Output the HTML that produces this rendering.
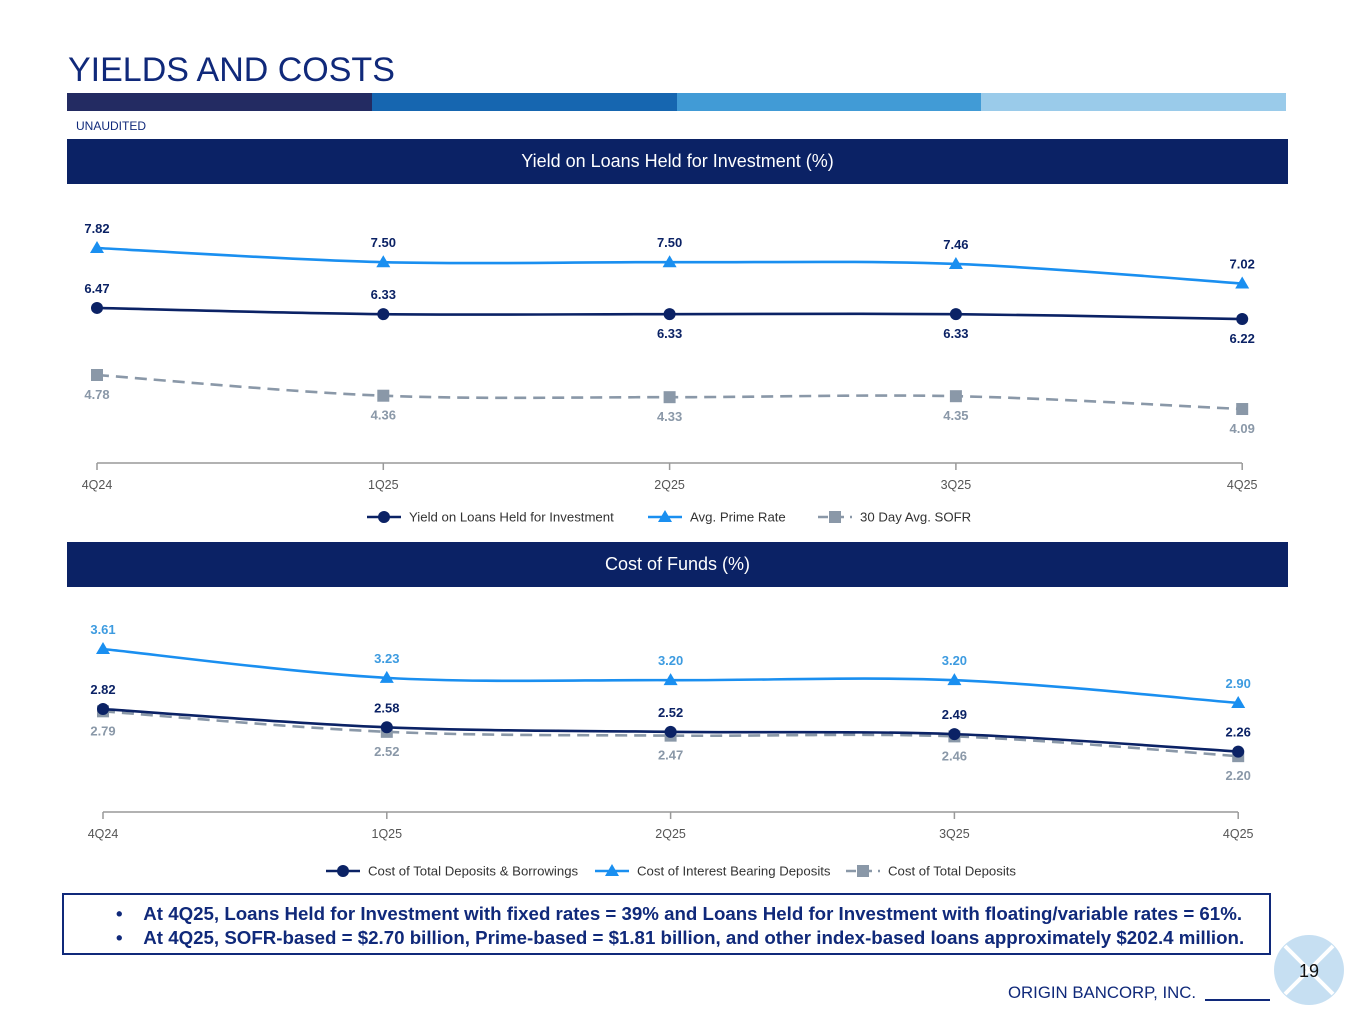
<!DOCTYPE html>
<html><head><meta charset="utf-8"><style>
body{margin:0;width:1365px;height:1024px;background:#fff;font-family:"Liberation Sans",Arial,sans-serif;position:relative;overflow:hidden}
.a{position:absolute}
.ban{position:absolute;left:67px;width:1221px;height:45px;background:#0b2265;color:#fff;font-size:18px;text-align:center;line-height:45px}
</style></head><body>
<div class="a" style="left:68px;top:51px;font-size:34px;color:#10297a">YIELDS AND COSTS</div>
<div class="a" style="left:67px;top:93px;width:1219px;height:18px;display:flex">
<div style="flex:1;background:#232b62"></div><div style="flex:1;background:#1666b0"></div><div style="flex:1;background:#419bd6"></div><div style="flex:1;background:#9acbea"></div></div>
<div class="a" style="left:76px;top:119px;font-size:12px;color:#10297a">UNAUDITED</div>
<div class="ban" style="top:139px">Yield on Loans Held for Investment (%)</div>
<div class="ban" style="top:542px">Cost of Funds (%)</div>
<svg class="a" id="sv" style="left:0;top:0" width="1365" height="1024"></svg>
<div class="a" style="left:62px;top:893px;width:1209px;height:62px;border:2px solid #10297a;font-size:18.7px;font-weight:bold;color:#10297a;line-height:24px;padding-top:7px;box-sizing:border-box;white-space:nowrap">
<div style="padding-left:52px">•&nbsp;&nbsp;&nbsp;&nbsp;At 4Q25, Loans Held for Investment with fixed rates = 39% and Loans Held for Investment with floating/variable rates = 61%.</div>
<div style="padding-left:52px">•&nbsp;&nbsp;&nbsp;&nbsp;At 4Q25, SOFR-based = $2.70 billion, Prime-based = $1.81 billion, and other index-based loans approximately $202.4 million.</div></div>
<div class="a" style="left:1008px;top:983px;font-size:16.8px;color:#10297a">ORIGIN BANCORP, INC.</div>
<div class="a" style="left:1205px;top:999px;width:65px;height:1.5px;background:#10297a"></div>
<svg class="a" style="left:1273px;top:934px" width="72" height="72"><circle cx="36" cy="36" r="35" fill="#c6dff2"/><path d="M12 12L60 60M60 12L12 60" stroke="#fff" stroke-width="4"/><text x="36" y="43" font-size="18" text-anchor="middle" fill="#111" font-family="Liberation Sans">19</text></svg>
<script>
const cats=["4Q24","1Q25","2Q25","3Q25","4Q25"];
const yieldLoans=[6.47,6.33,6.33,6.33,6.22];
const primeRate=[7.82,7.50,7.50,7.46,7.02];
const sofr=[4.78,4.36,4.33,4.35,4.09];
const costTotal=[2.82,2.58,2.52,2.49,2.26];
const costIB=[3.61,3.23,3.20,3.20,2.90];
const costDep=[2.79,2.52,2.47,2.46,2.20];
const NS="http://www.w3.org/2000/svg",sv=document.getElementById('sv');
function el(t,a,p){const e=document.createElementNS(NS,t);for(const k in a)e.setAttribute(k,a[k]);(p||sv).appendChild(e);return e;}
function path(pts){let d="M"+pts[0][0]+","+pts[0][1];for(let i=0;i<pts.length-1;i++){const p0=pts[i-1]||pts[i],p1=pts[i],p2=pts[i+1],p3=pts[i+2]||p2,t=6;d+=`C${p1[0]+(p2[0]-p0[0])/t},${p1[1]+(p2[1]-p0[1])/t} ${p2[0]-(p3[0]-p1[0])/t},${p2[1]-(p3[1]-p1[1])/t} ${p2[0]},${p2[1]}`;}return d;}
function marker(s,x,y,c){if(s=='c')return el('circle',{cx:x,cy:y,r:6,fill:c});if(s=='t')return el('path',{d:`M${x} ${y-7}L${x+7} ${y+5}L${x-7} ${y+5}Z`,fill:c});return el('rect',{x:x-6,y:y-6,width:12,height:12,fill:c});}
function series(name,vals,xf,yf,c,sh,dash,lab,lc,bold){
 const g=el('g',{});
 const pts=vals.map((v,i)=>[xf(i),yf(v)]);
 el('path',{d:path(pts),fill:'none',stroke:c,'stroke-width':2.6,'stroke-dasharray':dash||''},g);
 pts.forEach((q,i)=>{const m=marker(sh,q[0],q[1],c);g.appendChild(m);
  const off=lab[i]<0?-15:24;
  const t=el('text',{x:q[0],y:q[1]+off,'text-anchor':'middle','font-size':13,'font-weight':bold?'bold':'normal',fill:lc},g);t.textContent=vals[i].toFixed(2);});
}
function axis(x0,x1,y,xs,nm){const g=el('g',{});
 el('line',{x1:x0,x2:x1,y1:y,y2:y,stroke:'#999','stroke-width':1.5},g);
 cats.forEach((c,i)=>{el('line',{x1:xs(i),x2:xs(i),y1:y,y2:y+7,stroke:'#999','stroke-width':1.5},g);const t=el('text',{x:xs(i),y:y+26,'text-anchor':'middle','font-size':12.5,fill:'#555'},g);t.textContent=c;});}
function legend(items,y,nm){const g=el('g',{});
 items.forEach(it=>{el('line',{x1:it[0],x2:it[0]+34,y1:y,y2:y,stroke:it[2],'stroke-width':2.6,'stroke-dasharray':it[4]||''},g);const m=marker(it[3],it[0]+17,y,it[2]);g.appendChild(m);const t=el('text',{x:it[0]+42,y:y+4.5,'font-size':13.2,fill:'#333'},g);t.textContent=it[1];});}
// chart 1
const x1=i=>97+i*286.3, y1=v=>248+(7.82-v)*44.4, y1s=v=>375+(4.78-v)*49.3;
axis(97,1242,463,x1,'yield-x-axis');
series('prime-rate-series',primeRate,x1,y1,'#1a8ff0','t','',[-1,-1,-1,-1,-1],'#0b2265',true);
series('yield-loans-series',yieldLoans,x1,y1,'#0b2265','c','',[-1,-1,1,1,1],'#0b2265',true);
series('sofr-series',sofr,x1,y1s,'#8a98a8','s','12 7',[1,1,1,1,1],'#8a98a8',true);
legend([[367,'Yield on Loans Held for Investment','#0b2265','c'],[648,'Avg. Prime Rate','#1a8ff0','t'],[818,'30 Day Avg. SOFR','#8a98a8','s','10 6']],517,'yield-legend');
// chart 2
const x2=i=>103+i*283.8, y2=v=>649+(3.61-v)*76;
axis(103,1238,812,x2,'cost-x-axis');
series('interest-bearing-series',costIB,x2,y2,'#1a8ff0','t','',[-1,-1,-1,-1,-1],'#3d9be0',true);
series('total-deposits-series',costDep,x2,y2,'#8a98a8','s','12 7',[1,1,1,1,1],'#8a98a8',true);
series('total-deposits-borrowings-series',costTotal,x2,y2,'#0b2265','c','',[-1,-1,-1,-1,-1],'#0b2265',true);
legend([[326,'Cost of Total Deposits & Borrowings','#0b2265','c'],[595,'Cost of Interest Bearing Deposits','#1a8ff0','t'],[846,'Cost of Total Deposits','#8a98a8','s','10 6']],871,'cost-legend');
</script>
</body></html>
